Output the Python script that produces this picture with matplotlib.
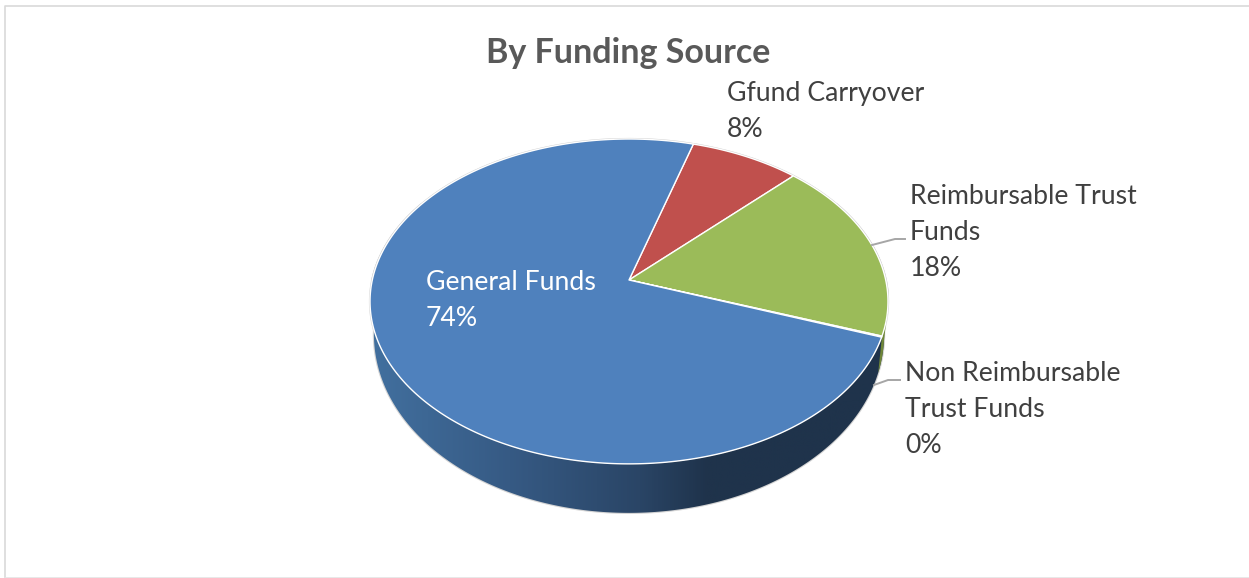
#!/usr/bin/env python
"""By Funding Source - tilted 3D style pie, drawn on a pixel sized axes."""

import numpy as np
import matplotlib
matplotlib.use("Agg")
import matplotlib.pyplot as plt
from matplotlib.colors import LinearSegmentedColormap
from matplotlib.patches import Polygon

# data, clockwise from the Gfund slice
names = ["Gfund Carryover", "Reimbursable Trust\nFunds", "Non Reimbursable\nTrust Funds", "General Funds"]
values = [7.8, 18.1, 0.1, 74.0]

title = "By Funding Source"
slice_colors = ["#c0504d", "#9bbb59", "#7f9a47", "#4f81bd"]
text_colors = ["#404040", "#404040", "#404040", "white"]

# anchor of each label block (left x, top line centre y)
label_pos = [(727, 91), (910, 194), (905, 371), (426, 280)]

# pie projection, fitted to the picture
CX, CY = 629, 280
A = 256.7
PERSP_A, PERSP_B = 159.6, 0.132
START = 16.4
FONT = "Lato"
LABEL_SIZE = 19.2
LINE_H = 36


def project(theta):
    """theta in degrees, clockwise from north -> picture coords of the top rim."""
    t = np.radians(theta)
    u, v = np.sin(t), np.cos(t)
    w = 1 + PERSP_B * v
    return CX + A * u / w, CY - PERSP_A * v / w


def project_low(theta):
    x, y = project(theta)
    v = np.cos(np.radians(theta))
    return CX + (x - CX) * 0.985, y + 30.5 - 18.5 * v


def arc(func, a, b):
    return np.column_stack(func(np.linspace(a, b, max(int(abs(b - a) * 2), 2))))


fig = plt.figure(figsize=(12.49, 5.78), dpi=100)
ax = fig.add_axes([0, 0, 1, 1])

edges = START + np.concatenate([[0], np.cumsum(values)]) * 3.6

# side wall, dark shaded to the right
wall_a, wall_b = 60, 300
wall = np.vstack([arc(project, wall_a, wall_b), arc(project_low, wall_b, wall_a)])
ax.add_patch(Polygon(wall, closed=True, fc="none", ec="#d4d4d4", lw=1.6, zorder=1))
clip = Polygon(wall, closed=True, transform=ax.transData, fc="none", ec="none")
ax.add_patch(clip)
cmap = LinearSegmentedColormap.from_list(
    "wall", [(0, "#42709f"), (0.27, "#365a84"), (0.52, "#2a4566"), (0.65, "#1f334b"), (1, "#1f334b")])
img = ax.imshow(np.linspace(0, 1, 512)[None, :], cmap=cmap, aspect="auto",
                extent=(369, 890, 520, 280), zorder=1.5)
img.set_clip_path(clip)

# olive sliver of the green slice wall
sliver = np.vstack([arc(project, 100, edges[2]), arc(project_low, edges[2], 100)])
ax.add_patch(Polygon(sliver, closed=True, fc="#6f8638", ec="none", zorder=1.6))

# soft grey rim round the back of the top face
ax.plot(*arc(project, -90, 100).T, color="#cfcfcf", lw=1.6, zorder=1.8)

# top face
for i, val in enumerate(values):
    a, b = edges[i], edges[i + 1]
    pts = np.vstack([[CX, CY], arc(project, a, b)])
    ax.add_patch(Polygon(pts, closed=True, fc=slice_colors[i], ec="white", lw=1.0,
                         joinstyle="round", zorder=2))

# leader lines
ax.plot([872, 895, 905], [245, 239, 239], color="#a6a6a6", lw=1.4, zorder=3)
ax.plot([874, 888, 900], [385, 380, 380], color="#a6a6a6", lw=1.4, zorder=3)

# labels
for name, val, (x, y), col in zip(names, values, label_pos, text_colors):
    lines = name.split("\n") + [f"{val:.0f}%"]
    for k, line in enumerate(lines):
        ax.text(x, y + k * LINE_H, line, color=col, fontsize=LABEL_SIZE, family=FONT,
                ha="left", va="center_baseline", zorder=4)

ax.text(628, 50, title, color="#595959", fontsize=24.5, family=FONT, weight="bold",
        ha="center", va="center_baseline", zorder=4)

# chart frame
ax.plot([5.5, 5.5, 1249], [578, 5.5, 5.5], color="#d9d9d9", lw=1.2, zorder=0)
ax.plot([5.5, 1249], [577.5, 577.5], color="#e4e4e4", lw=1.2, zorder=0)

ax.set_xlim(0, 1249)
ax.set_ylim(578, 0)
ax.axis("off")

fig.savefig("out.png", dpi=100, facecolor="white")
plt.close(fig)
